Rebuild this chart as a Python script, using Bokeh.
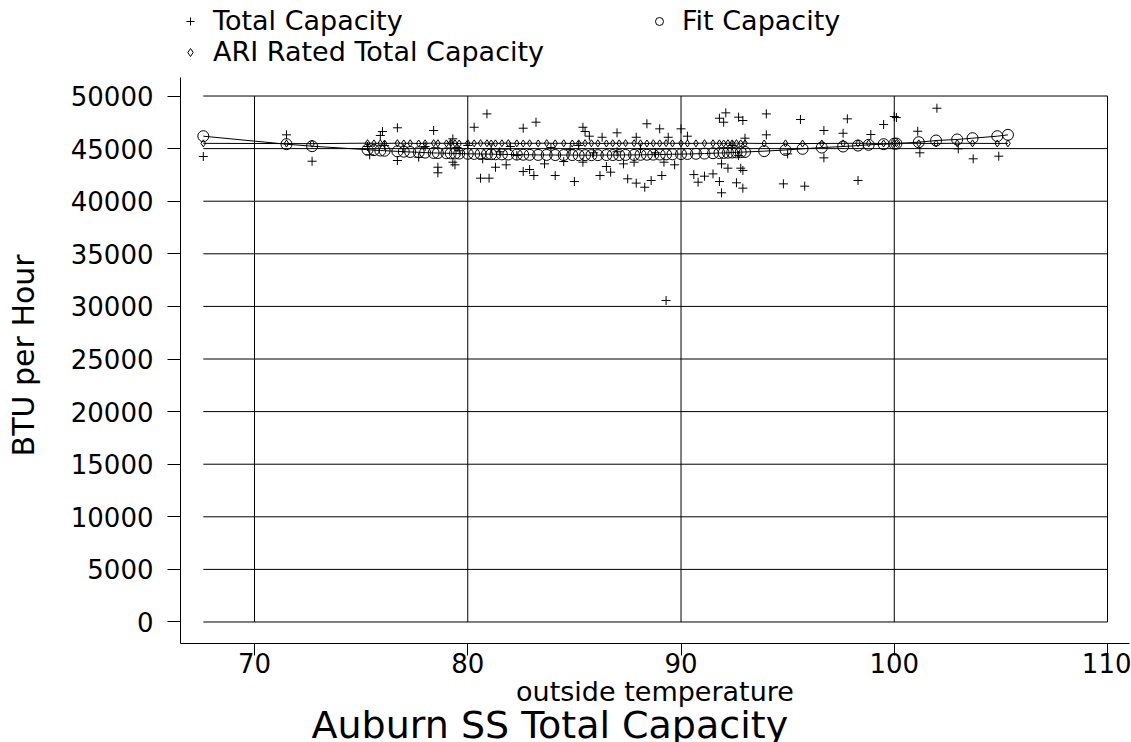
from bokeh.plotting import figure
from bokeh.models import Range1d, FixedTicker, Legend, LegendItem
from bokeh.embed import file_html
from bokeh.resources import INLINE

FONT = "DejaVu Sans"

# ---- data ----
total_temp = [
    67.6, 71.5, 72.7, 75.3, 75.4, 75.9, 76.0, 76.1, 76.7, 76.7,
    77.0, 77.7, 78.0, 78.4, 78.6, 78.6, 79.2, 79.3, 79.3, 79.4,
    79.5, 79.6, 80.0, 80.3, 80.6, 80.7, 80.9, 81.0, 81.1, 81.3,
    81.5, 81.8, 82.0, 82.3, 82.6, 82.6, 82.9, 83.1, 83.2, 83.6,
    83.9, 84.1, 84.5, 84.8, 85.0, 85.2, 85.4, 85.4, 85.5, 85.7,
    85.9, 86.2, 86.3, 86.5, 86.7, 87.0, 87.0, 87.3, 87.5, 87.8,
    87.9, 87.9, 88.1, 88.3, 88.4, 88.6, 88.8, 89.0, 89.1, 89.2,
    89.3, 89.4, 89.7, 90.0, 90.3, 90.6, 90.8, 91.1, 91.5, 91.8,
    91.8, 91.9, 91.9, 92.0, 92.1, 92.2, 92.4, 92.6, 92.7, 92.7,
    92.8, 92.9, 92.9, 92.9, 93.0, 94.0, 94.0, 94.8, 95.0, 95.6,
    95.8, 96.7, 96.7, 97.6, 97.8, 98.3, 98.9, 99.5, 100.0, 100.1,
    101.1, 101.2, 102.0, 103.0, 103.7, 104.9,
]
total_cap = [
    44250, 46310, 43800, 45200, 44410, 46250, 46620, 45300, 46980, 43870,
    45000, 44180, 45200, 46720, 43230, 42700, 45500, 45930, 43710, 43460,
    45100, 44800, 45300, 47030, 42190, 44030, 48300, 42190, 45000, 43230,
    44700, 43460, 45200, 44340, 46940, 42820, 43010, 42440, 47510, 43550,
    45100, 42440, 43770, 44900, 41870, 45300, 47030, 43710, 46620, 46180,
    44600, 42440, 46080, 43300, 42760, 46500, 44700, 43550, 42130, 43710,
    41720, 46080, 45000, 41330, 47360, 41970, 44600, 46880, 42440, 43710,
    30560, 46080, 43460, 46880, 46180, 42530, 41810, 42380, 42600, 47890,
    41870, 43550, 40800, 47510, 48400, 43140, 45300, 41750, 47990, 44340,
    43140, 47670, 42920, 41240, 45990, 48300, 46310, 41650, 44500, 47770,
    41430, 46720, 44120, 46460, 47830, 41970, 46340, 47290, 48050, 47950,
    46650, 44600, 48840, 44980, 44030, 44280,
]
fit_temp = [
    67.6, 71.5, 72.7, 75.3, 75.6, 75.9, 76.1, 76.7, 77.0, 77.3,
    77.7, 78.0, 78.4, 78.6, 79.0, 79.2, 79.4, 79.6, 80.0, 80.3,
    80.6, 80.9, 81.1, 81.3, 81.6, 81.9, 82.3, 82.6, 82.9, 83.3,
    83.7, 84.1, 84.5, 84.9, 85.2, 85.5, 85.8, 86.1, 86.5, 86.8,
    87.1, 87.4, 87.8, 88.1, 88.4, 88.7, 89.0, 89.3, 89.6, 90.0,
    90.3, 90.7, 91.1, 91.5, 91.8, 92.0, 92.2, 92.4, 92.6, 92.8,
    93.0, 93.9, 94.9, 95.7, 96.6, 97.6, 98.3, 98.8, 99.5, 100.0,
    100.1, 101.15, 101.96, 102.95, 103.67, 104.83, 105.33,
]
fit_cap = [
    46180, 45420, 45230, 44900, 44860, 44820, 44800, 44740, 44710, 44680,
    44650, 44620, 44590, 44580, 44560, 44550, 44540, 44530, 44510, 44500,
    44490, 44480, 44470, 44460, 44450, 44440, 44430, 44420, 44410, 44400,
    44400, 44390, 44390, 44390, 44380, 44380, 44380, 44380, 44390, 44390,
    44390, 44400, 44400, 44410, 44420, 44430, 44440, 44450, 44460, 44480,
    44490, 44510, 44530, 44560, 44580, 44590, 44610, 44630, 44640, 44660,
    44680, 44760, 44870, 44980, 45100, 45200, 45290, 45360, 45420, 45470,
    45480, 45610, 45770, 45870, 45990, 46180, 46310,
]
ari_cap = [
    45500, 45480, 45470, 45520, 45500, 45510, 45490, 45520, 45500, 45510,
    45490, 45500, 45520, 45510, 45500, 45530, 45500, 45490, 45510, 45500,
    45520, 45510, 45490, 45500, 45510, 45520, 45500, 45490, 45510, 45500,
    45520, 45500, 45510, 45490, 45500, 45520, 45510, 45500, 45490, 45510,
    45500, 45520, 45510, 45500, 45490, 45510, 45500, 45520, 45500, 45510,
    45490, 45500, 45520, 45510, 45500, 45490, 45510, 45500, 45520, 45500,
    45510, 45490, 45500, 45480, 45490, 45500, 45510, 45500, 45490, 45500,
    45510, 45500, 45490, 45510, 45500, 45490, 45500,
]
x_ticks = [70, 80, 90, 100, 110]
y_ticks = [0, 5000, 10000, 15000, 20000, 25000, 30000, 35000, 40000, 45000, 50000]

title_text = "Auburn SS Total Capacity"
x_title = "outside temperature"
y_title = "BTU per Hour"

# ---- figure (frame reaches the top so the legend can sit inside it) ----
p = figure(width=1131, height=742,
           x_range=Range1d(66.53, 111.03), y_range=Range1d(-2044, 59080),
           output_backend="svg", toolbar_location=None, title_location="below",
           min_border_left=180, min_border_right=2,
           min_border_top=0, min_border_bottom=99)
p.xgrid.visible = False
p.ygrid.visible = False
p.outline_line_color = None
p.background_fill_color = "white"
p.border_fill_color = "white"

# plot-region grid (only across the data region)
gx0 = min(fit_temp)
gx1 = max(x_ticks)
p.segment(x0=[gx0] * len(y_ticks), y0=y_ticks, x1=[gx1] * len(y_ticks), y1=y_ticks,
          line_color="black", line_width=1)
p.segment(x0=x_ticks, y0=[min(y_ticks)] * len(x_ticks), x1=x_ticks, y1=[max(y_ticks)] * len(x_ticks),
          line_color="black", line_width=1)

r_total = p.scatter(total_temp, total_cap, marker="cross", size=9,
                    line_color="black", line_width=1)
p.line(fit_temp, ari_cap, line_color="black", line_width=1)
r_ari = p.scatter(fit_temp, ari_cap, marker="diamond", size=7,
                  fill_color=None, line_color="black", line_width=1)
p.line(fit_temp, fit_cap, line_color="black", line_width=1)
r_fit = p.scatter(fit_temp, fit_cap, marker="circle", size=11,
                  fill_color=None, line_color="black", line_width=1)

# axes
for ax in (p.xaxis, p.yaxis):
    ax.axis_line_color = "black"
    ax.major_tick_line_color = "black"
    ax.minor_tick_line_color = None
    ax.major_tick_in = 0
    ax.major_label_text_font = FONT
    ax.major_label_text_color = "black"
    ax.major_label_text_font_size = "26px"
    ax.axis_label_text_font = FONT
    ax.axis_label_text_font_style = "normal"
    ax.axis_label_text_color = "black"

p.xaxis.ticker = FixedTicker(ticks=x_ticks)
p.xaxis.major_tick_out = 12
p.xaxis.major_label_standoff = -3
p.xaxis.axis_label = x_title
p.xaxis.axis_label_text_font_size = "27px"
p.xaxis.axis_label_standoff = 0

p.yaxis.ticker = FixedTicker(ticks=y_ticks)
p.yaxis.bounds = (-2044, 51758)
p.yaxis.major_tick_out = 13
p.yaxis.major_label_standoff = 14
# trailing no-break spaces centre the label on the drawn axis line rather than the frame
p.yaxis.axis_label = y_title + "\u00a0" * 7
p.yaxis.axis_label_text_font_size = "30px"
p.yaxis.axis_label_standoff = 27

# chart title under the axis
p.title.text = title_text
p.title.text_font = FONT
p.title.text_font_size = "38px"
p.title.text_font_style = "normal"
p.title.text_color = "black"
p.title.align = "left"
p.title.offset = 131
p.title.standoff = -18

legend = Legend(items=[
    LegendItem(label="Total Capacity", renderers=[r_total]),
    LegendItem(label="ARI Rated Total Capacity", renderers=[r_ari]),
    LegendItem(label="Fit Capacity", renderers=[r_fit]),
], location=(0, 576), orientation="vertical", nrows=2,
    glyph_width=20, glyph_height=20, label_standoff=13, label_width=436,
    spacing=0, padding=0, margin=0, border_line_color=None,
    background_fill_alpha=0, label_text_font=FONT, label_text_font_size="27px",
    label_text_color="black")
p.add_layout(legend)

open("out.html", "w").write(file_html(p, INLINE))
